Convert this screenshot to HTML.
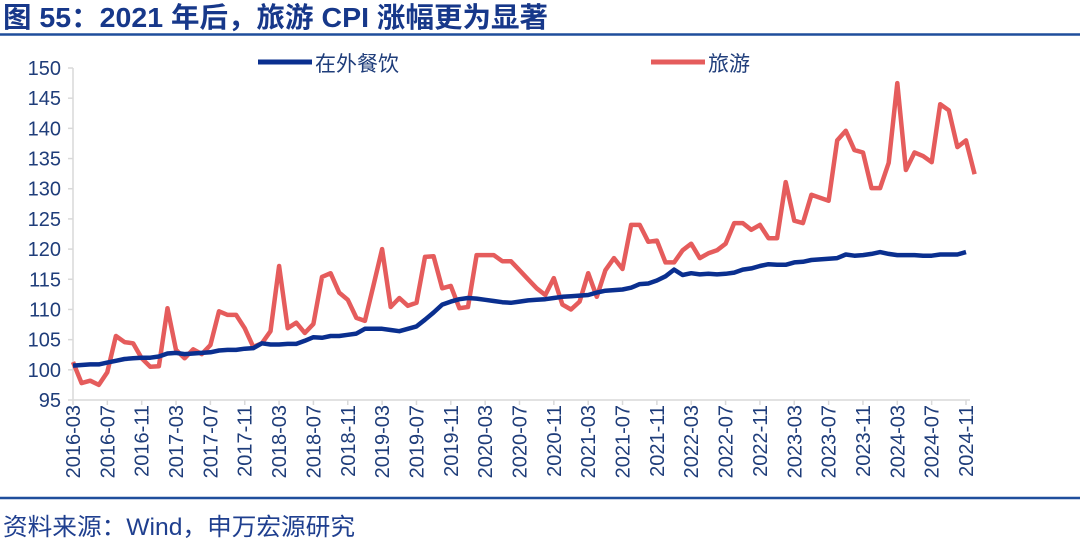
<!DOCTYPE html>
<html><head><meta charset="utf-8"><style>
body{margin:0;background:#fff;width:1080px;height:542px;overflow:hidden;font-family:"Liberation Sans","Noto Sans CJK SC",sans-serif}
svg text{font-family:"Liberation Sans","Noto Sans CJK SC",sans-serif}
</style></head><body>
<svg id="chart" width="1080" height="542" xmlns="http://www.w3.org/2000/svg">
<text x="3" y="27" font-size="28" font-weight="bold" fill="#17388a" textLength="545" lengthAdjust="spacingAndGlyphs">图 55：2021 年后，旅游 CPI 涨幅更为显著</text>
<line x1="0" y1="34.5" x2="1080" y2="34.5" stroke="#1f4e9c" stroke-width="2.5"/>
<line x1="0" y1="498" x2="1080" y2="498" stroke="#1f4e9c" stroke-width="2.5"/>
<text x="3" y="535" font-size="24" fill="#1f3f8f" textLength="352" lengthAdjust="spacingAndGlyphs">资料来源：Wind，申万宏源研究</text>
<g id="axes"></g>
<g id="series"></g>
<g>
<line x1="258" y1="62" x2="312" y2="62" stroke="#0a2f8f" stroke-width="5"/>
<text x="315" y="71" font-size="21" fill="#1f3d7a">在外餐饮</text>
<line x1="651" y1="62" x2="705" y2="62" stroke="#e55c5c" stroke-width="5"/>
<text x="708" y="71" font-size="21" fill="#1f3d7a">旅游</text>
</g>
</svg>
<script>
const dining=[100.7,100.8,100.9,100.9,101.2,101.5,101.8,101.9,102.0,102.0,
102.2,102.7,102.8,102.6,102.7,102.8,102.9,103.2,103.3,103.3,103.5,103.6,
104.4,104.2,104.2,104.3,104.3,104.8,105.4,105.3,105.6,105.6,105.8,106.0,
106.8,106.8,106.8,106.6,106.4,106.8,107.2,108.3,109.5,110.8,111.3,111.7,
111.9,111.8,111.6,111.4,111.2,111.1,111.3,111.5,111.6,111.7,111.9,112.1,
112.2,112.3,112.4,112.8,113.1,113.2,113.3,113.6,114.2,114.3,114.8,115.5,
116.6,115.7,116.0,115.8,115.9,115.8,115.9,116.1,116.6,116.8,117.2,117.5,
117.4,117.4,117.8,117.9,118.2,118.3,118.4,118.5,119.1,118.9,119.0,119.2,
119.5,119.2,119.0,119.0,119.0,118.9,118.9,119.1,119.1,119.1,119.5];
const travel=[101.3,97.8,98.2,97.5,99.6,105.6,104.6,104.4,101.9,100.5,100.6,110.2,103.3,101.9,103.4,102.6,104.1,109.7,109.1,109.1,106.9,103.8,104.4,106.4,117.2,106.9,107.8,106.1,107.6,115.4,116.0,112.8,111.6,108.6,108.1,114,120.0,110.4,111.9,110.6,111.1,118.7,118.8,113.5,113.9,110.2,110.4,119.0,
119,119,118,118,116.5,115,113.5,112.4,115.2,110.8,110,111.3,116,112.1,116.5,118.5,116.7,124,124,121.2,121.4,117.8,117.8,119.8,120.9,118.5,119.3,119.8,120.9,124.3,124.3,
123.2,124,121.8,121.8,131.1,124.7,124.3,129,128.5,128,138,139.6,136.4,136,130.1,130.1,134.3,147.5,133.1,136,135.4,134.4,144,143,136.9,138,132.4];
const yTicks=[95,100,105,110,115,120,125,130,135,140,145,150];
const startYear=2016,startMonth=3;
const NS="http://www.w3.org/2000/svg";
const x0=73,x1=966,yTop=68,yBot=400,vMin=95,vMax=150;
const n=dining.length;
function xs(i){return x0+(x1-x0)*i/(n-1);}
function ys(v){return yBot-(v-vMin)/(vMax-vMin)*(yBot-yTop);}
function mk(tag,attrs,parent){const e=document.createElementNS(NS,tag);for(const k in attrs)e.setAttribute(k,attrs[k]);parent.appendChild(e);return e;}
const axes=document.getElementById('axes');
const ya=mk('line',{x1:x0,y1:yTop,x2:x0,y2:yBot,stroke:'#d9d9d9','stroke-width':1.5},axes);


const xa=mk('line',{x1:x0,y1:yBot,x2:x1+4,y2:yBot,stroke:'#d9d9d9','stroke-width':1.5},axes);


yTicks.forEach(v=>{
  const t=mk('line',{x1:x0-5,y1:ys(v),x2:x0,y2:ys(v),stroke:'#d9d9d9','stroke-width':1.5},axes);
  
  
  const l=mk('text',{x:x0-12,y:ys(v)+7,'text-anchor':'end','font-size':20,fill:'#1f3d7a'},axes);
  
  
  l.textContent=v;
});
for(let i=0;i<n;i+=4){
  const m=startMonth-1+i;const yr=startYear+Math.floor(m/12);const mo=m%12+1;
  const lab=yr+'-'+String(mo).padStart(2,'0');
  const t=mk('line',{x1:xs(i),y1:yBot,x2:xs(i),y2:yBot+5,stroke:'#d9d9d9','stroke-width':1.5},axes);
  
  
  const l=mk('text',{transform:`translate(${xs(i)+7},${yBot+5}) rotate(-90)`,'text-anchor':'end','font-size':20,fill:'#1f3d7a'},axes);
  
  
  l.textContent=lab;
}
const ser=document.getElementById('series');
const pd=dining.map((v,i)=>xs(i).toFixed(1)+','+ys(v).toFixed(1)).join(' ');
const pt=travel.map((v,i)=>xs(i).toFixed(1)+','+ys(v).toFixed(1)).join(' ');
const lt=mk('polyline',{points:pt,fill:'none',stroke:'#e55c5c','stroke-width':4.5,'stroke-linejoin':'round'},ser);


const ld=mk('polyline',{points:pd,fill:'none',stroke:'#0a2f8f','stroke-width':4.5,'stroke-linejoin':'round'},ser);


</script>
</body></html>
